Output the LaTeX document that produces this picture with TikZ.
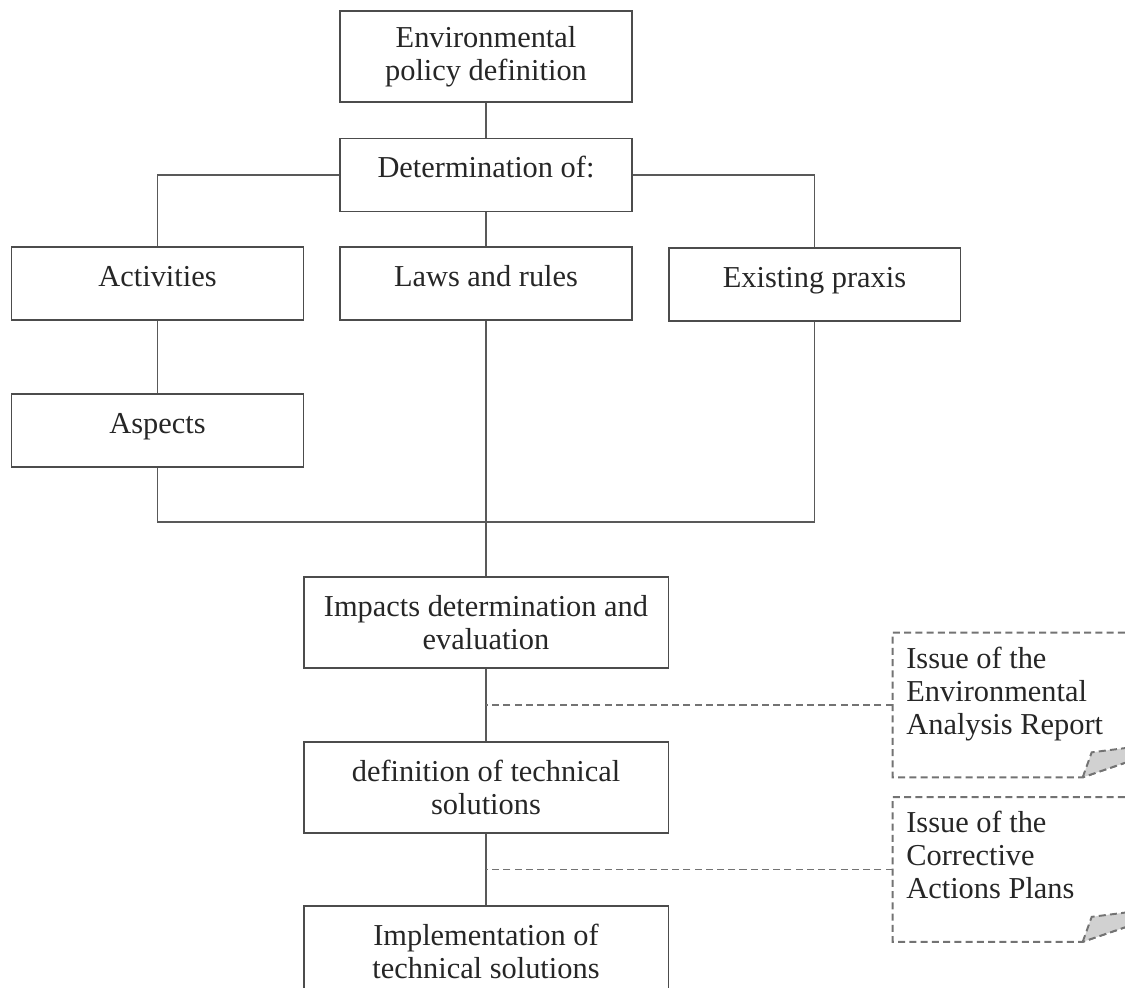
\documentclass[tikz,border=0pt]{standalone}
\usepackage{fontspec}
\setmainfont{Liberation Serif}
\usetikzlibrary{calc}
\def\docframe(#1){%
	\draw[docline] (#1.north east) -- (#1.north west) -- (#1.south west) -- ($(#1.south west)+(190,0)$) -- ($(#1.south west)+(254,-22)$);
	\draw[docline, fill=black!18] ($(#1.south west)+(190,0)$) -- ($(#1.south west)+(199,-25)$) -- ($(#1.south west)+(254,-32)$) -- ($(#1.south west)+(254,-22)$) -- cycle;}

\begin{document}
\begin{tikzpicture}[x=0.02cm, y=-0.02cm,
		every node/.style={font=\fontsize{17.3pt}{18.6pt}\selectfont, text=black!85},
		box/.style={draw=black!70, line width=1.1pt, inner sep=0pt, minimum width=5.84cm, minimum height=1.46cm, text height=11pt, text depth=8pt},
		tallbox/.style={draw=black!70, line width=1.1pt, inner sep=0pt, minimum width=5.84cm, minimum height=1.82cm, align=center},
		widebox/.style={draw=black!70, line width=1.1pt, inner sep=0pt, minimum width=7.3cm, minimum height=1.82cm, align=center},
		docframe/.style={inner sep=0pt, minimum width=5.08cm, minimum height=2.88cm},
		doctext/.style={inner sep=0pt, anchor=north west, align=left},
		link/.style={draw=black!65, line width=1pt},
		docline/.style={draw=black!55, line width=1.1pt, dash pattern=on 4pt off 2.4pt}]
			%%%%% START %%%%%
			
			\clip (0, 0) rectangle (1125, 987);
			
			\node[tallbox] (env) at (486, 56.5) {Environmental\\policy definition};
			\node[box] (det) at (486, 175) {Determination of:};
			
			\node[box] (act) at (157.5, 283.5) {Activities};
			\node[box] (laws) at (486, 283.5) {Laws and rules};
			\node[box] (prax) at (814.5, 284.5) {Existing praxis};
			\node[box] (asp) at (157.5, 430.5) {Aspects};
			
			\node[widebox] (imp) at (486, 622.5) {Impacts determination and\\evaluation};
			\node[widebox] (defn) at (486, 787.5) {definition of technical\\solutions};
			\node[widebox] (impl) at (486, 951.5) {Implementation of\\technical solutions};
			
			\coordinate (mrg) at (486, 522);
			
			\draw[link] (env) -- (det);
			\draw[link] (det.west) -| (act.north);
			\draw[link] (det.east) -| (prax.north);
			\draw[link] (det) -- (laws);
			\draw[link] (act) -- (asp);
			\draw[link] (asp.south) |- (mrg) -| (prax.south);
			\draw[link] (laws) -- (imp);
			\draw[link] (imp) -- (defn);
			\draw[link] (defn) -- (impl);
			
			\node[docframe] (repf) at (1020, 705) {};
			\docframe(repf);
			\node[doctext] (rep) at (906, 647) {Issue of the\\Environmental\\Analysis Report};
			\draw[docline] (repf.west) -- (repf.west -| imp.south);
			
			\node[docframe] (capf) at (1020, 869.5) {};
			\docframe(capf);
			\node[doctext] (cap) at (906, 811) {Issue of the\\Corrective\\Actions Plans};
			\draw[docline] (capf.west) -- (capf.west -| defn.south);
			
			%%%%% END %%%%%
\end{tikzpicture}
\end{document}
